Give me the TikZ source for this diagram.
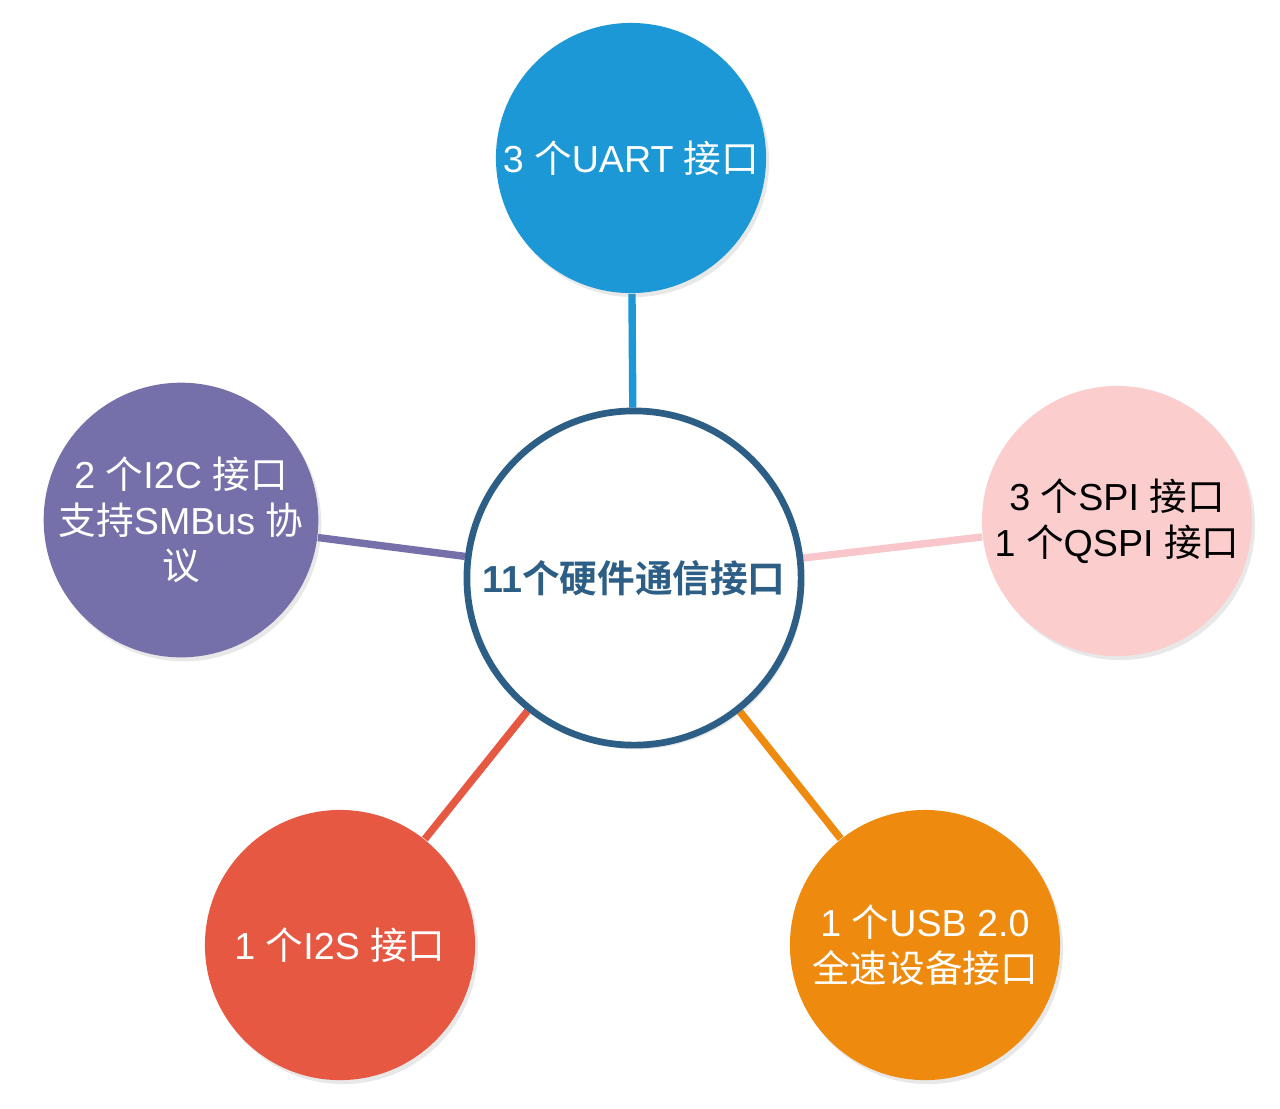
\documentclass[tikz,border=0pt]{standalone}
\usepackage{fontspec}
\setmainfont{Liberation Sans}
\newfontfamily\cjk{Noto Sans CJK SC}[BoldFont={Noto Sans CJK SC Bold}]
\usetikzlibrary{shadows,backgrounds}
\definecolor{hubblue}{HTML}{2D5F86}
\definecolor{uartblue}{HTML}{1B98D5}
\definecolor{spipink}{HTML}{FBCDCD}
\definecolor{spiline}{HTML}{F8C6CB}
\definecolor{iicpurple}{HTML}{7570A9}
\definecolor{iisred}{HTML}{E75842}
\definecolor{usborange}{HTML}{EE8A0E}
\begin{document}
\begin{tikzpicture}[x=0.01cm, y=-0.01cm,
  bubble/.style={circle, minimum size=2.7cm, inner sep=0pt, align=center,
    font=\fontsize{10.7pt}{13pt}\selectfont, text=white,
    drop shadow={opacity=0.18, shadow xshift=0.03cm, shadow yshift=-0.04cm}},
  spoke/.style={line width=2.1pt}]
\useasboundingbox (0,0) rectangle (1280,1108);

% Mitte
\node[circle, draw=hubblue, line width=1.9pt, fill=white, minimum size=3.34cm,
  inner sep=0pt, text=hubblue, font=\fontsize{10.7pt}{13pt}\selectfont\bfseries,
  drop shadow={opacity=0.18, shadow xshift=0.03cm, shadow yshift=-0.04cm}]
  (hub) at (634,578) {11{\cjk 个硬件通信接口}};

% Schnittstellen ringsum
\node[bubble, fill=uartblue] (uart) at (631,158) {3 {\cjk 个}UART {\cjk 接口}};
\node[bubble, fill=spipink, text=black] (spi) at (1117,521)
  {3 {\cjk 个}SPI {\cjk 接口}\\1 {\cjk 个}QSPI {\cjk 接口}};
\node[bubble, fill=iicpurple] (iic) at (181,520)
  {2 {\cjk 个}I2C {\cjk 接口}\\{\cjk 支持}SMBus {\cjk 协}\\{\cjk 议}};
\node[bubble, fill=iisred] (iis) at (340,945) {1 {\cjk 个}I2S {\cjk 接口}};
\node[bubble, fill=usborange] (usb) at (925,945)
  {1 {\cjk 个}USB 2.0\\{\cjk 全速设备接口}};

% Speichen hinter den Kreisen
\begin{scope}[on background layer]
\draw[spoke, uartblue] (hub) -- (uart);
\draw[spoke, spiline] (hub) -- (spi);
\draw[spoke, iicpurple] (hub) -- (iic);
\draw[spoke, iisred] (hub) -- (iis);
\draw[spoke, usborange] (hub) -- (usb);
\end{scope}
\end{tikzpicture}
\end{document}
